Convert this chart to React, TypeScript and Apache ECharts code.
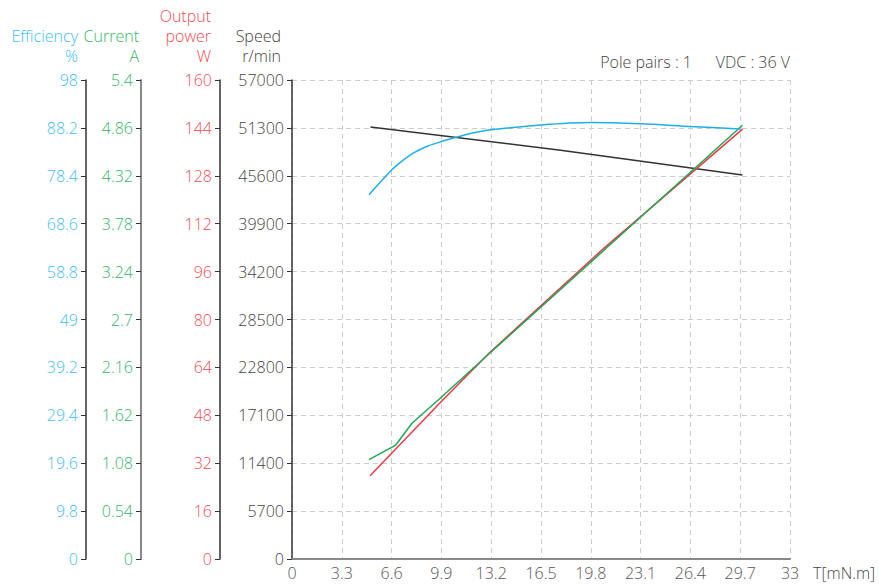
import React, { useEffect, useRef } from "react";
import * as echarts from "echarts";

const xTicks = { min: 0, max: 33, interval: 3.3 };
const speedAxis = { min: 0, max: 57000, interval: 5700 };
const powerAxis = { min: 0, max: 160, interval: 16 };
const currentAxis = { min: 0, max: 5.4, interval: 0.54 };
const effAxis = { min: 0, max: 98, interval: 9.8 };

const effTorque = [5.1, 5.5, 6.0, 6.6, 7.2, 8.0, 9.0, 9.9, 11.5, 13.2, 16.5, 19.8, 23.1, 26.4, 29.7];
const efficiency = [74.5, 75.9, 77.6, 79.6, 81.2, 83.0, 84.5, 85.4, 86.8, 87.8, 88.8, 89.3, 89.05, 88.5, 88.0];

const speedTorque = [5.2, 17.8, 29.85];
const speed = [51400, 48650, 45700];

const currentTorque = [5.1, 6.85, 7.95, 9.8, 13.1, 20.8, 29.85];
const current = [1.12, 1.28, 1.53, 1.81, 2.32, 3.5, 4.89];

const powerTorque = [5.17, 9.8, 13.1, 20.6, 29.85];
const power = [27.8, 52.1, 69.0, 103.5, 143.6];

const FONT = "Open Sans";
const FW = 300;
const FS = 16;
const C_EFF = "#3fbef2";
const C_EFF_LINE = "#1cb0ea";
const C_CUR = "#35b56c";
const C_CUR_LINE = "#1fa855";
const C_POW = "#f24c55";
const C_POW_LINE = "#ec3a40";
const C_SPD = "#444444";

const pairs = (xs: number[], ys: number[]) => xs.map((x, i) => [x, ys[i]]);
const fmt = (v: number) => String(+v.toFixed(2));

function yAxis(
  range: { min: number; max: number; interval: number },
  offset: number,
  name: string,
  color: string,
  lineColor: string,
  lineWidth: number,
  namePadRight: number,
  split: boolean
) {
  return {
    type: "value",
    position: "left",
    offset,
    min: range.min,
    max: range.max,
    interval: range.interval,
    name,
    nameLocation: "end",
    nameGap: 14,
    nameTextStyle: {
      color,
      fontFamily: FONT,
      fontWeight: FW,
      fontSize: FS,
      align: "right",
      verticalAlign: "bottom",
      lineHeight: 20,
      padding: [0, namePadRight, 0, 0],
    },
    axisLine: { show: true, lineStyle: { color: lineColor, width: lineWidth } },
    axisTick: { show: true, length: 5, lineStyle: { color: "#333", width: 1 } },
    axisLabel: { color, fontFamily: FONT, fontWeight: FW, fontSize: FS, margin: 8, formatter: fmt },
    splitLine: split
      ? { show: true, lineStyle: { color: "#cccccc", type: [5, 4], width: 1 } }
      : { show: false },
  };
}

export default function App() {
  const ref = useRef<HTMLDivElement>(null);
  useEffect(() => {
    if (!ref.current) return;
    const chart = echarts.init(ref.current, undefined, { renderer: "svg" });
    chart.setOption({
      animation: false,
      backgroundColor: "#ffffff",
      textStyle: { fontFamily: FONT, fontWeight: FW },
      grid: { left: 292, right: 89, top: 80, bottom: 26, containLabel: false },
      graphic: [
        {
          type: "text",
          right: 187,
          top: 54,
          style: { text: "Pole pairs : 1", fill: "#444", font: `${FW} ${FS}px '${FONT}'` },
        },
        {
          type: "text",
          right: 89,
          top: 54,
          style: { text: "VDC : 36 V", fill: "#444", font: `${FW} ${FS}px '${FONT}'` },
        },
      ],
      xAxis: {
        type: "value",
        min: xTicks.min,
        max: xTicks.max,
        interval: xTicks.interval,
        name: "T[mN.m]",
        nameLocation: "end",
        nameGap: 23,
        nameTextStyle: {
          color: "#444",
          fontFamily: FONT,
          fontWeight: FW,
          fontSize: FS,
          align: "left",
          verticalAlign: "top",
          padding: [6, 0, 0, 0],
        },
        axisLine: { show: true, lineStyle: { color: "#888", width: 2 } },
        axisTick: { show: false },
        axisLabel: {
          color: "#555",
          fontFamily: FONT,
          fontWeight: FW,
          fontSize: FS,
          margin: 6,
          formatter: (v: number) => String(+v.toFixed(1)),
        },
        splitLine: { show: true, lineStyle: { color: "#cccccc", type: [5, 4], width: 1 } },
      },
      yAxis: [
        yAxis(speedAxis, 0, "Speed\nr/min", C_SPD, "#333", 1.5, 11, true),
        yAxis(powerAxis, 72, "Output\npower\nW", C_POW, "#333", 1.5, 9, false),
        yAxis(currentAxis, 151, "Current\nA", C_CUR, "#888", 2, 2, false),
        yAxis(effAxis, 206, "Efficiency\n%", C_EFF, "#333", 1.5, 8, false),
      ],
      series: [
        {
          name: "Speed",
          type: "line",
          yAxisIndex: 0,
          data: pairs(speedTorque, speed),
          showSymbol: false,
          lineStyle: { color: "#333", width: 1.5 },
          itemStyle: { color: "#333" },
        },
        {
          name: "Output power",
          type: "line",
          yAxisIndex: 1,
          data: pairs(powerTorque, power),
          showSymbol: false,
          lineStyle: { color: C_POW_LINE, width: 1.5 },
          itemStyle: { color: C_POW_LINE },
        },
        {
          name: "Current",
          type: "line",
          yAxisIndex: 2,
          data: pairs(currentTorque, current),
          showSymbol: false,
          lineStyle: { color: C_CUR_LINE, width: 1.5 },
          itemStyle: { color: C_CUR_LINE },
        },
        {
          name: "Efficiency",
          type: "line",
          yAxisIndex: 3,
          data: pairs(effTorque, efficiency),
          showSymbol: false,
          smooth: 0.3,
          lineStyle: { color: C_EFF_LINE, width: 1.5 },
          itemStyle: { color: C_EFF_LINE },
        },
      ],
    });
    return () => chart.dispose();
  }, []);
  return (
    <div
      ref={ref}
      style={{ position: "fixed", left: 0, top: 0, width: 879, height: 585 }}
    />
  );
}
